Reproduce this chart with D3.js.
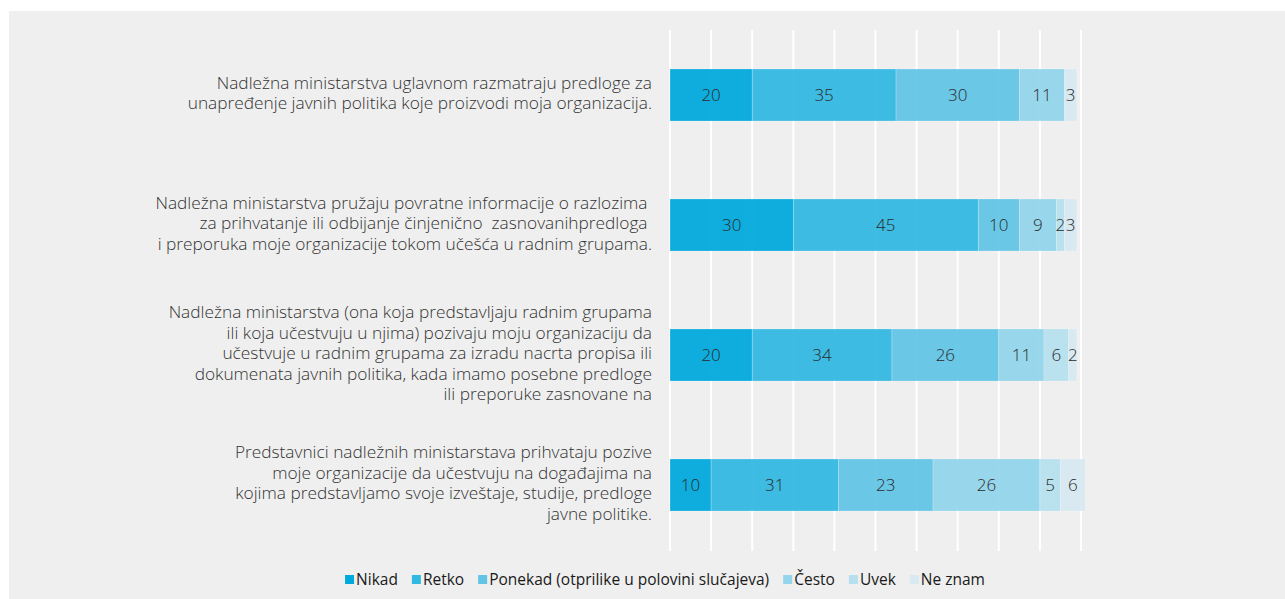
<html>
<head>
<meta charset="utf-8">
<script src="https://d3js.org/d3.v7.min.js"></script>
<style>
  body { margin: 0; background: #fff; }
  text { font-family: "Open Sans", "DejaVu Sans", sans-serif; }
</style>
</head>
<body>
<div id="graph"></div>
<script>
// question labels, one array of lines each
const categories = [
  ['Nadležna ministarstva uglavnom razmatraju predloge za',
   'unapređenje javnih politika koje proizvodi moja organizacija.'],
  ['Nadležna ministarstva pružaju povratne informacije o razlozima ',
   'za prihvatanje ili odbijanje činjenično  zasnovanihpredloga ',
   'i preporuka moje organizacije tokom učešća u radnim grupama.'],
  ['Nadležna ministarstva (ona koja predstavljaju radnim grupama',
   'ili koja učestvuju u njima) pozivaju moju organizaciju da',
   'učestvuje u radnim grupama za izradu nacrta propisa ili',
   'dokumenata javnih politika, kada imamo posebne predloge',
   'ili preporuke zasnovane na'],
  ['Predstavnici nadležnih ministarstava prihvataju pozive',
   'moje organizacije da učestvuju na događajima na',
   'kojima predstavljamo svoje izveštaje, studije, predloge',
   'javne politike.']
];

const seriesNames = ['Nikad', 'Retko', 'Ponekad (otprilike u polovini slučajeva)', 'Često', 'Uvek', 'Ne znam'];
const nikad   = [20, 30, 20, 10];
const retko   = [35, 45, 34, 31];
const ponekad = [30, 10, 26, 23];
const cesto   = [11,  9, 11, 26];
const uvek    = [ 0,  2,  6,  5];
const neZnam  = [ 3,  3,  2,  6];
const xTicks  = [0, 10, 20, 30, 40, 50, 60, 70, 80, 90, 100];

const colors = ['#00a9dc', '#33b8e2', '#62c5e5', '#93d5eb', '#b6e0ee', '#d8e9f1'];

const W = 1285, H = 599;
const svg = d3.select('#graph').append('svg')
  .attr('width', W).attr('height', H);

// grey panel
svg.append('rect')
  .attr('x', 9).attr('y', 11).attr('width', W - 9).attr('height', H - 11)
  .attr('fill', '#efefef');

const x = d3.scaleLinear().domain([0, 100]).range([670, 1081]);
const y = d3.scaleBand().domain(d3.range(categories.length))
  .range([30, 550]).paddingInner(0.6).paddingOuter(0.3);

// grid lines
svg.append('g').selectAll('line')
  .data(xTicks).enter().append('line')
  .attr('x1', d => x(d)).attr('x2', d => x(d))
  .attr('y1', 30).attr('y2', 551)
  .attr('stroke', '#fff').attr('stroke-width', 2);

// stack
const rows = categories.map((c, i) => {
  const r = {i: i};
  [nikad, retko, ponekad, cesto, uvek, neZnam].forEach((s, k) => { r[k] = s[i]; });
  return r;
});
const stacked = d3.stack().keys(d3.range(seriesNames.length))(rows);

const layers = svg.append('g').selectAll('g')
  .data(stacked).enter().append('g')
  .attr('fill', (d, k) => colors[k]);

layers.selectAll('rect')
  .data(d => d).enter().append('rect')
  .attr('x', d => x(d[0]))
  .attr('width', d => x(d[1]) - x(d[0]))
  .attr('y', d => y(d.data.i))
  .attr('height', y.bandwidth())
  .attr('fill-opacity', 0.94)
  .attr('stroke', 'rgba(255,255,255,0.35)')
  .attr('stroke-width', 0.6);

layers.selectAll('text')
  .data(d => d.filter(v => v[1] - v[0] > 0)).enter().append('text')
  .attr('x', d => (x(d[0]) + x(d[1])) / 2)
  .attr('y', d => y(d.data.i) + y.bandwidth() / 2)
  .attr('dy', '0.36em')
  .attr('text-anchor', 'middle')
  .attr('font-size', 17)
  .attr('font-weight', 300)
  .attr('fill', '#2a2a2a')
  .text(d => d[1] - d[0]);

// category labels
const lineH = 20.5;
const lab = svg.append('g').selectAll('text')
  .data(categories).enter().append('text')
  .attr('text-anchor', 'end')
  .attr('font-size', 17.3)
  .attr('font-weight', 300)
  .attr('fill', '#333')
  .style('white-space', 'pre')
  .attr('xml:space', 'preserve');

lab.each(function (lines, i) {
  const cy = y(i) + y.bandwidth() / 2 - 2;
  const top = cy - (lines.length - 1) * lineH / 2;
  d3.select(this).selectAll('tspan')
    .data(lines).enter().append('tspan')
    .attr('x', 652)
    .attr('y', (d, j) => top + j * lineH)
    .attr('dy', '0.35em')
    .text(d => d);
});

// legend
const legend = svg.append('g');
const items = legend.selectAll('g').data(seriesNames).enter().append('g');
items.append('rect')
  .attr('width', 9).attr('height', 9)
  .attr('y', 575)
  .attr('fill', (d, k) => colors[k]);
items.append('text')
  .attr('x', 11).attr('y', 579.5)
  .attr('dy', '0.35em')
  .attr('font-size', 15.5)
  .attr('fill', '#1a1a1a')
  .text(d => d);

let pos = 0;
items.each(function () {
  d3.select(this).attr('transform', 'translate(' + pos + ',0)');
  pos += 11 + this.querySelector('text').getComputedTextLength() + 14;
});
const totalW = pos - 14;
legend.attr('transform', 'translate(' + (665 - totalW / 2) + ',0)');
</script>
</body>
</html>
